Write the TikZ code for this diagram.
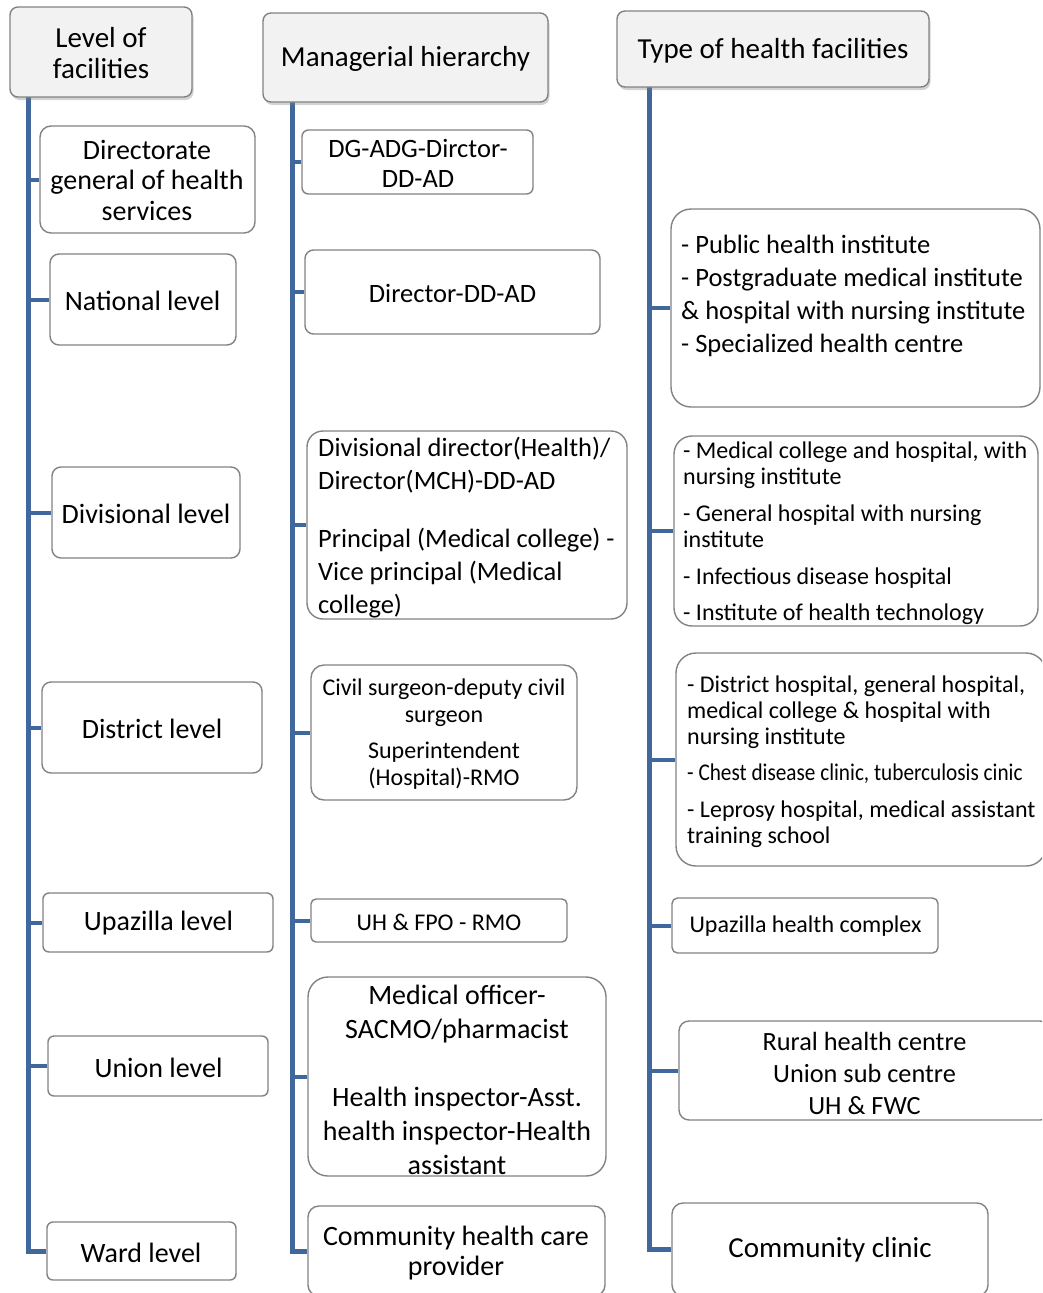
\documentclass[tikz,border=0pt]{standalone}
\usepackage{fontspec}
\setmainfont{Carlito}
\usetikzlibrary{shadows,backgrounds}

\definecolor{trunk}{RGB}{64,104,156}
\definecolor{frame}{RGB}{130,130,130}
\definecolor{headfill}{RGB}{242,242,242}

\tikzset{
  card/.style={draw=frame, line width=1.4pt, rounded corners=#1, fill=white,
    inner sep=0pt},
  card/.default=10pt,
  head/.style={draw=frame, line width=1.4pt, rounded corners=8pt, fill=headfill,
    inner sep=0pt,
    drop shadow={shadow xshift=1.5pt, shadow yshift=-3pt, opacity=0.35}},
  trunkline/.style={draw=trunk, line width=5pt, line join=miter},
  twig/.style={draw=trunk, line width=4pt},
  lbl/.style={inner sep=0pt, align=center, yshift=-1.5pt},
  lbll/.style={inner sep=0pt, align=left, anchor=west, yshift=-1.5pt},
  fhead/.style={font=\fontsize{29}{31}\selectfont},
  flevel/.style={font=\fontsize{28}{30.5}\selectfont},
  fmid/.style={font=\fontsize{26.5}{30}\selectfont},
  fsmall/.style={font=\fontsize{24}{27}\selectfont},
}

\begin{document}
\begin{tikzpicture}[x=1pt, y=-1pt]
\useasboundingbox (0,0) rectangle (1042,1293);
\clip (0,0) rectangle (1042,1293);

% roots of the three trunks (just below each heading)
\coordinate (rootL) at (28,95);
\coordinate (rootM) at (292,100);
\coordinate (rootR) at (649,85);

% ---------- level of facilities ----------
\node[card=11pt, minimum width=215, minimum height=107] (dg)  at (147.5,179.5) {};
\node[card=9pt,  minimum width=186, minimum height=91]  (nat) at (143,299.5) {};
\node[card=9pt,  minimum width=188, minimum height=91]  (div) at (146,512.5) {};
\node[card=9pt,  minimum width=220, minimum height=91]  (dis) at (152,727.5) {};
\node[card=6pt,  minimum width=230, minimum height=59]  (upa) at (158,922.5) {};
\node[card=6pt,  minimum width=220, minimum height=60]  (uni) at (158,1066) {};
\node[card=6pt,  minimum width=189, minimum height=58]  (war) at (141.5,1251) {};

% ---------- managerial hierarchy ----------
\node[card=6.5pt, minimum width=231, minimum height=64]  (m1) at (417.5,162) {};
\node[card=8.5pt, minimum width=295, minimum height=84]  (m2) at (452.5,292) {};
\node[card=16pt,  minimum width=320, minimum height=188] (m3) at (467,525) {};
\node[card=13pt,  minimum width=266, minimum height=135] (m4) at (444,732.5) {};
\node[card=5pt,   minimum width=256, minimum height=43]  (m5) at (439,920.5) {};
\node[card=20pt,  minimum width=298, minimum height=199] (m6) at (457,1076.5) {};
\node[card=11pt,  minimum width=297, minimum height=90]  (m7) at (456.5,1251) {};

% ---------- type of health facilities ----------
\node[card=20pt,  minimum width=369, minimum height=198] (f1) at (855.5,308) {};
\node[card=18pt,  minimum width=364, minimum height=190] (f2) at (856,531) {};
\node[card=20pt,  minimum width=370, minimum height=213] (f3) at (861,759.5) {};
\node[card=5.5pt, minimum width=266, minimum height=55]  (f4) at (805,925.5) {};
\node[card=10pt,  minimum width=371, minimum height=99]  (f5) at (864.5,1070.5) {};
\node[card=11pt,  minimum width=316, minimum height=93]  (f6) at (830,1249.5) {};

% ---------- trunks and branches, behind the cards ----------
\begin{pgfonlayer}{background}
\draw[trunkline] (rootL) |- (war.west);
\draw[trunkline] (rootM) |- (m7.west);
\draw[trunkline] (rootR) |- (f6.west);
\foreach \b in {dg,nat,div,dis,upa,uni}
  \draw[twig] (rootL |- \b.west) -- (\b.west);
\foreach \b in {m1,m2,m3,m4,m5,m6}
  \draw[twig] (rootM |- \b.west) -- (\b.west);
\foreach \b in {f1,f2,f3,f4,f5}
  \draw[twig] (rootR |- \b.west) -- (\b.west);
\end{pgfonlayer}

% ---------- headings ----------
\node[head, minimum width=182, minimum height=90] (hL) at (101,52) {};
\node[head, minimum width=285, minimum height=89] (hM) at (405.5,57.5) {};
\node[head, minimum width=312, minimum height=76] (hR) at (773,49) {};
\node[lbl, fhead] (thL) at (hL.center) {Level of\\facilities};
\node[lbl, fhead] (thM) at (hM.center) {Managerial hierarchy};
\node[lbl, fhead] (thR) at (hR.center) {Type of health facilities};

% ---------- labels: levels ----------
\node[lbl, flevel] (tdg)  at (147,178.5) {Directorate\\general of health\\services};
\node[lbl, flevel] (tnat) at (142.5,299) {National level};
\node[lbl, flevel] (tdiv) at (146,512) {Divisional level};
\node[lbl, flevel] (tdis) at (152,727) {District level};
\node[lbl, flevel] (tupa) at (158.5,922) {Upazilla level};
\node[lbl, flevel] (tuni) at (158.5,1066) {Union level};
\node[lbl, flevel] (twar) at (141,1251) {Ward level};

% ---------- labels: managerial hierarchy ----------
\node[lbl, fmid] (tm1) at (418,162) {DG-ADG-Dirctor-\\DD-AD};
\node[lbl, fmid] (tm2) at (452.5,292) {Director-DD-AD};
\node[lbll, font=\fontsize{26.5}{33}\selectfont] (tm3) at (318,526)
  {Divisional director(Health)/\\Director(MCH)-DD-AD\\[25pt]
   Principal (Medical college) -\\Vice principal (Medical\\college)};
\node[lbl, fsmall] (tm4) at (444,732.5)
  {Civil surgeon-deputy civil\\surgeon\\[9pt]Superintendent\\(Hospital)-RMO};
\node[lbl, fsmall] (tm5) at (439,920.5) {UH \& FPO - RMO};
\node[lbl, font=\fontsize{28}{34}\selectfont] (tm6) at (457,1078)
  {Medical officer-\\SACMO/pharmacist\\[34pt]Health inspector-Asst.\\health inspector-Health\\assistant};
\node[lbl, font=\fontsize{28}{30}\selectfont] (tm7) at (456,1252)
  {Community health care\\provider};

% ---------- labels: facility types ----------
\node[lbll, font=\fontsize{26.5}{33}\selectfont] (tf1) at (681,294.5)
  {- Public health institute\\- Postgraduate medical institute\\\& hospital with nursing institute\\- Specialized health centre};
\node[lbll, font=\fontsize{24}{26.5}\selectfont] (tf2) at (683,531.5)
  {- Medical college and hospital, with\\nursing institute\\[10pt]
   - General hospital with nursing\\institute\\[10pt]
   - Infectious disease hospital\\[10pt]
   - Institute of health technology};
\node[lbll, font=\fontsize{24}{26}\selectfont] (tf3) at (687,760)
  {- District hospital, general hospital,\\medical college \& hospital with\\nursing institute\\[10pt]
   \scalebox{0.885}[1]{- Chest disease clinic, tuberculosis cinic}\\[11pt]
   - Leprosy hospital, medical assistant\\training school};
\node[lbl, fsmall] (tf4) at (805.5,925) {Upazilla health complex};
\node[lbl, font=\fontsize{26.3}{32}\selectfont] (tf5) at (864.5,1072)
  {Rural health centre\\Union sub centre\\UH \& FWC};
\node[lbl, fhead] (tf6) at (830,1248) {Community clinic};
\end{tikzpicture}
\end{document}
